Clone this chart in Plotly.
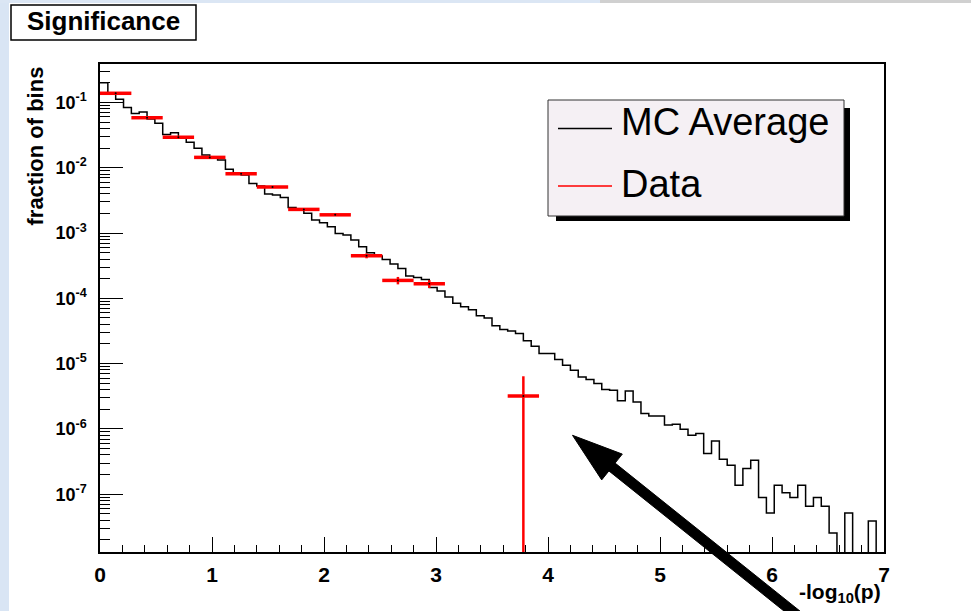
import numpy as np
import plotly.graph_objects as go

# ---------------- data ----------------
# MC average: 100 bins of width 0.07 on -log10(p) in [0, 7]
mc_bin_width = 0.07
mc_values = [
    0.200, 0.137, 0.1115, 0.0835, 0.0676, 0.0713, 0.0557, 0.0478, 0.0324, 0.0343,
    0.0282, 0.0245, 0.0198, 0.0156, 0.0144, 0.0131, 0.00944, 0.00837, 0.00772, 0.00575,
    0.00524, 0.00395, 0.00381, 0.00351, 0.00247, 0.00230, 0.00200, 0.00158, 0.00143, 0.00125,
    0.000987, 0.000929, 0.000779, 0.000615, 0.000498, 0.000443, 0.000394, 0.000334, 0.000287, 0.000219,
    0.000209, 0.000195, 0.000147, 0.000130, 0.000105, 8.44e-5, 7.46e-5, 6.66e-5, 5.43e-5, 5.00e-5,
    3.81e-5, 3.33e-5, 3.17e-5, 2.90e-5, 2.23e-5, 1.85e-5, 1.43e-5, 1.43e-5, 1.16e-5, 9.46e-6,
    7.93e-6, 6.26e-6, 5.71e-6, 4.96e-6, 4.02e-6, 3.92e-6, 2.69e-6, 3.82e-6, 2.59e-6, 1.72e-6,
    1.57e-6, 1.57e-6, 1.15e-6, 1.18e-6, 9.90e-7, 8.01e-7, 8.50e-7, 4.20e-7, 6.55e-7, 3.43e-7,
    2.78e-7, 1.37e-7, 2.47e-7, 3.31e-7, 8.89e-8, 5.16e-8, 1.37e-7, 1.05e-7, 8.89e-8, 1.37e-7,
    6.54e-8, 8.89e-8, 6.54e-8, 2.55e-8, 0.0, 5.16e-8, 0.0, 0.0, 3.89e-8, 0.0,
]

# Data: bins of width 0.28 (empty bins omitted)
data_bin_half_width = 0.14
data_x = [0.14, 0.42, 0.70, 0.98, 1.26, 1.54, 1.82, 2.10, 2.38, 2.66, 2.94, 3.78]
data_y = [0.138, 0.0583, 0.0292, 0.0144, 0.00808, 0.00505, 0.00230, 0.00190,
          0.000448, 0.000188, 0.000167, 3.20e-6]
data_err = [6.6e-4, 4.3e-4, 3.1e-4, 2.1e-4, 1.6e-4, 1.3e-4, 8.6e-5, 7.8e-5,
            3.8e-5, 2.45e-5, 2.3e-5, 3.20e-6]

y_tick_vals = [1e-1, 1e-2, 1e-3, 1e-4, 1e-5, 1e-6, 1e-7]
y_tick_text = ["10<sup>-1</sup>", "10<sup>-2</sup>", "10<sup>-3</sup>", "10<sup>-4</sup>",
               "10<sup>-5</sup>", "10<sup>-6</sup>", "10<sup>-7</sup>"]
x_tick_vals = [0, 1, 2, 3, 4, 5, 6, 7]

title_text = "Significance"
x_title = "-log<sub>10</sub>(p)"
y_title = "fraction of bins"
legend_names = ["MC Average", "Data"]

# ---------------- layout geometry (pixels) ----------------
W, H = 971, 611
L, R, T, B = 100, 87, 64, 59
PW, PH = W - L - R, H - T - B


def px(x):
    return (x - L) / PW


def py(y):
    return (H - B - y) / PH


FONT = "Liberation Sans, Arial, Helvetica, sans-serif"

fig = go.Figure()

# MC histogram as step line
edges = np.arange(len(mc_values) + 1) * mc_bin_width
floor = 1e-14  # empty bins drawn down to below the axis
mc_draw = [v if v > 0 else floor for v in mc_values]
fig.add_trace(go.Scatter(
    x=edges, y=mc_draw + [mc_draw[-1]], mode="lines",
    line=dict(shape="hv", color="black", width=1.5),
    name=legend_names[0], showlegend=False, hoverinfo="skip",
))

# Data with error bars
err_minus = [min(e, 0.999 * v) for e, v in zip(data_err, data_y)]
fig.add_trace(go.Scatter(
    x=data_x, y=data_y, mode="markers",
    marker=dict(size=2, color="black"),
    error_x=dict(type="constant", value=data_bin_half_width, width=0, thickness=3.5, color="#ff0000"),
    error_y=dict(type="data", array=data_err, arrayminus=err_minus, symmetric=False,
                 width=0, thickness=2.5, color="#ff0000"),
    name=legend_names[1], showlegend=False,
))

shapes = []
annotations = []

# page border strips
shapes.append(dict(type="rect", xref="paper", yref="paper", x0=px(0), x1=px(9), y0=py(0), y1=py(H),
                   fillcolor="#d9e5f4", line=dict(width=0), layer="below"))
shapes.append(dict(type="rect", xref="paper", yref="paper", x0=px(0), x1=px(600), y0=py(0), y1=py(3),
                   fillcolor="#dbe6f4", line=dict(width=0), layer="below"))
shapes.append(dict(type="rect", xref="paper", yref="paper", x0=px(600), x1=px(W), y0=py(0), y1=py(3),
                   fillcolor="#d0d0d0", line=dict(width=0), layer="below"))

# title box
shapes.append(dict(type="rect", xref="paper", yref="paper", x0=px(11), x1=px(196), y0=py(5), y1=py(40),
                   fillcolor="white", line=dict(color="black", width=1.5)))
annotations.append(dict(text="<b>%s</b>" % title_text, xref="paper", yref="paper",
                        x=px(103.5), y=py(21), xanchor="center", yanchor="middle", showarrow=False,
                        font=dict(family=FONT, size=26, color="black")))

# legend box with shadow
shapes.append(dict(type="rect", xref="paper", yref="paper", x0=px(556), x1=px(850), y0=py(108), y1=py(221),
                   fillcolor="black", line=dict(width=0)))
shapes.append(dict(type="rect", xref="paper", yref="paper", x0=px(548), x1=px(844), y0=py(100), y1=py(216),
                   fillcolor="#f5f0f4", line=dict(color="#333333", width=1)))
shapes.append(dict(type="line", xref="paper", yref="paper", x0=px(558), x1=px(612), y0=py(128.5), y1=py(128.5),
                   line=dict(color="black", width=1.3)))
shapes.append(dict(type="line", xref="paper", yref="paper", x0=px(558), x1=px(612), y0=py(186), y1=py(186),
                   line=dict(color="#ff0000", width=1.3)))
annotations.append(dict(text=legend_names[0], xref="paper", yref="paper", x=px(619), y=py(122),
                        xanchor="left", yanchor="middle", showarrow=False,
                        font=dict(family=FONT, size=38, color="black")))
annotations.append(dict(text=legend_names[1], xref="paper", yref="paper", x=px(619), y=py(184),
                        xanchor="left", yanchor="middle", showarrow=False,
                        font=dict(family=FONT, size=38, color="black")))

# axis titles
annotations.append(dict(text="<b>%s</b>" % y_title, xref="paper", yref="paper", x=px(35), y=py(146.5),
                        xanchor="center", yanchor="middle", textangle=-90, showarrow=False,
                        font=dict(family=FONT, size=22, color="black")))
annotations.append(dict(text="<b>%s</b>" % x_title, xref="paper", yref="paper", x=px(883), y=py(593),
                        xanchor="right", yanchor="middle", showarrow=False,
                        font=dict(family=FONT, size=21, color="black")))

# big arrow (pointing at the last data point region)
tip = (572.5, 435.3)
c1 = (601.7, 479.9)
c2 = (622.3, 454.1)
s1 = (608.9, 470.9)
s2 = (615.1, 463.1)
e1 = (806.3, 628.9)
e2 = (812.5, 621.1)
pts = [tip, c1, s1, e1, e2, s2, c2]
path = "M " + " L ".join("%.5f,%.5f" % (px(a), py(b)) for a, b in pts) + " Z"
shapes.append(dict(type="path", xref="paper", yref="paper", path=path,
                   fillcolor="black", line=dict(color="black", width=1)))

fig.update_layout(
    width=W, height=H,
    margin=dict(l=L, r=R, t=T, b=B, pad=0),
    paper_bgcolor="white", plot_bgcolor="white",
    showlegend=False,
    shapes=shapes, annotations=annotations,
    font=dict(family=FONT, color="black"),
    xaxis=dict(
        range=[0, 7], tickvals=x_tick_vals, ticks="inside", ticklen=15, tickwidth=1.2,
        tickcolor="black", showline=True, linecolor="black", linewidth=1.5, mirror=True,
        showgrid=False, zeroline=False,
        tickfont=dict(family=FONT, size=21, color="black", weight="bold"),
        ticklabelstandoff=3,
        minor=dict(ticks="inside", ticklen=7, dtick=0.2, tick0=0, tickcolor="black", tickwidth=1.2,
                   showgrid=False),
    ),
    yaxis=dict(
        type="log", range=[-7.885, -0.4116], tickvals=y_tick_vals, ticktext=y_tick_text,
        ticks="inside", ticklen=23, tickwidth=1.2, tickcolor="black",
        showline=True, linecolor="black", linewidth=1.5, mirror=True,
        showgrid=False, zeroline=False,
        tickfont=dict(family=FONT, size=18, color="black", weight="bold"),
        ticklabelstandoff=8,
        minor=dict(ticks="inside", ticklen=10, dtick="D1", tickcolor="black", tickwidth=1.2,
                   showgrid=False),
    ),
)

fig.write_html("out.html")
